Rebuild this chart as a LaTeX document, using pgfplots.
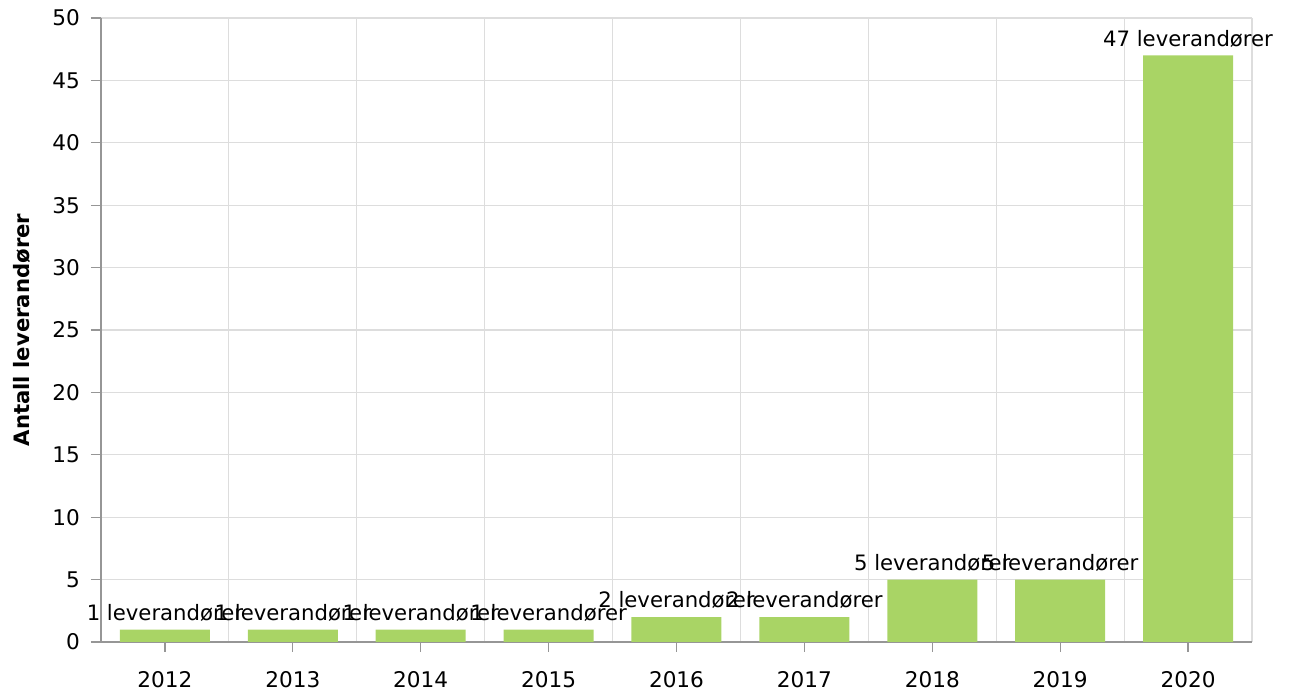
\documentclass[border=0pt]{standalone}
\usepackage{pgfplots}
\pgfplotsset{compat=1.18}
\usepackage{fontspec}
\setmainfont{DejaVu Sans}
\definecolor{bargreen}{RGB}{169,212,101}
\definecolor{axisgray}{RGB}{150,150,150}
\definecolor{gridgray}{RGB}{221,221,221}
\begin{document}
\begin{tikzpicture}
\useasboundingbox (-50.5pt,-24pt) rectangle (594.5pt,321pt);
\begin{axis}[
  scale only axis,
  width=575.5pt, height=312pt,
  xmin=-0.5, xmax=8.5, ymin=0, ymax=50,
  xtick={0,1,2,3,4,5,6,7,8},
  xticklabels={2012,2013,2014,2015,2016,2017,2018,2019,2020},
  minor xtick={0.5,1.5,2.5,3.5,4.5,5.5,6.5,7.5,8.5},
  ytick={0,5,10,15,20,25,30,35,40,45,50},
  ymajorgrids, xminorgrids,
  grid style={gridgray, line width=0.6pt},
  minor grid style={gridgray, line width=0.6pt},
  axis x line*=bottom, axis y line*=left,
  axis line style={axisgray, line width=0.6pt},
  tick style={axisgray, line width=0.6pt},
  major tick length=5pt, minor tick length=0pt,
  tick align=outside,
  xtick pos=bottom, ytick pos=left,
  ticklabel style={font=\fontsize{10.8}{12}\selectfont, text=black},
  /pgf/number format/assume math mode=true,
  xticklabel style={yshift=-6pt},
  yticklabel style={xshift=-2pt},
  ylabel={\textbf{Antall leverandører}},
  ylabel style={font=\fontsize{10.6}{12}\selectfont, yshift=4pt},
  nodes near coords={\pgfmathprintnumber{\pgfplotspointmeta} leverandører},
  nodes near coords style={font=\fontsize{10.6}{12}\selectfont, text=black, inner sep=1pt, yshift=3pt},
]
\addplot[ybar, bar width=45pt, fill=bargreen, draw=none, mark=none]
  coordinates {(0,1) (1,1) (2,1) (3,1) (4,2) (5,2) (6,5) (7,5) (8,47)};
\end{axis}
\end{tikzpicture}
\end{document}
